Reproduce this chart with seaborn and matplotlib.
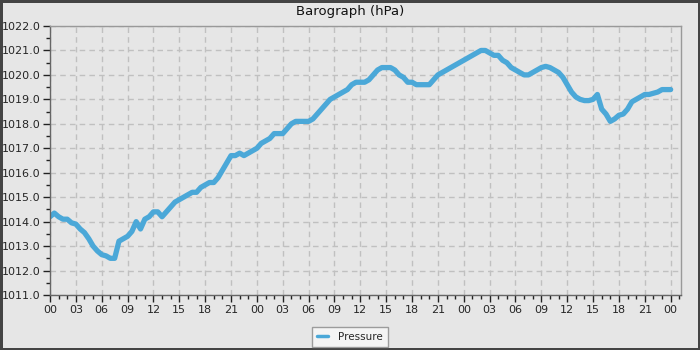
import matplotlib
matplotlib.use("Agg")
import matplotlib.pyplot as plt
import matplotlib.ticker as mticker
import seaborn as sns
import pandas as pd

title = "Barograph (hPa)"
series_name = "Pressure"
# readings every half hour over three days
hours = [i / 2 for i in range(145)]
pressure = [
    1014.2, 1014.35, 1014.2, 1014.1, 1014.1, 1013.95, 1013.9, 1013.7, 1013.55, 1013.3,
    1013.0, 1012.8, 1012.65, 1012.6, 1012.5, 1012.5, 1013.2, 1013.3, 1013.4, 1013.6,
    1014.0, 1013.7, 1014.1, 1014.2, 1014.4, 1014.4, 1014.2, 1014.4, 1014.6, 1014.8,
    1014.9, 1015.0, 1015.1, 1015.2, 1015.2, 1015.4, 1015.5, 1015.6, 1015.6, 1015.8,
    1016.1, 1016.4, 1016.7, 1016.7, 1016.8, 1016.7, 1016.8, 1016.9, 1017.0, 1017.2,
    1017.3, 1017.4, 1017.6, 1017.6, 1017.6, 1017.8, 1018.0, 1018.1, 1018.1, 1018.1,
    1018.1, 1018.2, 1018.4, 1018.6, 1018.8, 1019.0, 1019.1, 1019.2, 1019.3, 1019.4,
    1019.6, 1019.7, 1019.7, 1019.7, 1019.8, 1020.0, 1020.2, 1020.3, 1020.3, 1020.3,
    1020.2, 1020.0, 1019.9, 1019.7, 1019.7, 1019.6, 1019.6, 1019.6, 1019.6, 1019.8,
    1020.0, 1020.1, 1020.2, 1020.3, 1020.4, 1020.5, 1020.6, 1020.7, 1020.8, 1020.9,
    1021.0, 1021.0, 1020.9, 1020.8, 1020.8, 1020.6, 1020.5, 1020.3, 1020.2, 1020.1,
    1020.0, 1020.0, 1020.1, 1020.2, 1020.3, 1020.35, 1020.3, 1020.2, 1020.1, 1019.9,
    1019.6, 1019.3, 1019.1, 1019.0, 1018.95, 1018.95, 1019.0, 1019.2, 1018.6, 1018.4,
    1018.1, 1018.2, 1018.35, 1018.4, 1018.6, 1018.9, 1019.0, 1019.1, 1019.2, 1019.2,
    1019.25, 1019.3, 1019.4, 1019.4, 1019.4,
]
df = pd.DataFrame({"hour": hours, "pressure": pressure})

sns.set_style("white")
plt.rcParams["font.family"] = ["DejaVu Sans"]
bg = "#e6e6e6"
fig = plt.figure(figsize=(7, 3.5), dpi=100, facecolor=bg)
fig.patch.set_edgecolor("#444444")
fig.patch.set_linewidth(2.5)
ax = fig.add_axes([50/700, 1-295/350, 631/700, 269/350])
ax.set_facecolor(bg)

sns.lineplot(data=df, x="hour", y="pressure", ax=ax, color="#4ba8d8",
             linewidth=3.8, label=series_name, legend=False)

ax.set_xlim(0, 73.2)
ax.set_ylim(1011, 1022)
ax.xaxis.set_major_locator(mticker.MultipleLocator(3))
ax.xaxis.set_minor_locator(mticker.MultipleLocator(1))
ax.xaxis.set_major_formatter(mticker.FuncFormatter(lambda v, p: f"{int(round(v)) % 24:02d}"))
ax.yaxis.set_major_locator(mticker.MultipleLocator(1))
ax.yaxis.set_minor_locator(mticker.MultipleLocator(0.5))
ax.yaxis.set_major_formatter(mticker.FormatStrFormatter("%.1f"))
ax.tick_params(axis="both", which="major", length=5, width=1, color="#222222",
               labelsize=8, direction="out", pad=2, left=True, bottom=True)
ax.tick_params(axis="both", which="minor", length=3, width=1, color="#222222",
               direction="out", left=True, bottom=True)
ax.grid(True, which="major", linestyle=(0, (4, 3)), color="#c0c0c0", linewidth=1)
ax.set_axisbelow(True)
for s in ["left", "bottom"]:
    ax.spines[s].set_color("#666666")
    ax.spines[s].set_linewidth(1)
for s in ["top", "right"]:
    ax.spines[s].set_color("#999999")
    ax.spines[s].set_linewidth(1)
ax.set_xlabel("")
ax.set_ylabel("")
fig.text(0.5, 1-12/350, title, ha="center", va="center", fontsize=9.5, color="#111111")

handles, labels = ax.get_legend_handles_labels()
leg = fig.legend(handles, labels, loc="center", bbox_to_anchor=(350/700, 1-337/350),
                 fontsize=7.5, frameon=True, fancybox=False, handlelength=1,
                 handletextpad=1.0, borderpad=0.5, borderaxespad=0)
leg.get_frame().set_facecolor("#f8f8f8")
leg.get_frame().set_edgecolor("#888888")
leg.get_frame().set_linewidth(1)
for l in leg.get_lines():
    l.set_linewidth(2.5)

fig.savefig("out.png", dpi=100, facecolor=bg, edgecolor="#444444")
